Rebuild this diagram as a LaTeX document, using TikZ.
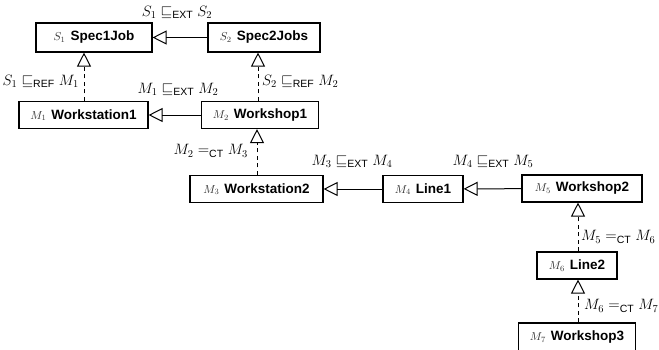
\RequirePackage{fix-cm}
\documentclass[tikz,border=0pt]{standalone}
\usepackage{amsmath}
\usepackage{fontspec}
\setsansfont{Liberation Sans}
\usetikzlibrary{arrows.meta}
\newcommand{\ext}{\mathrel{\sqsubseteq_{\textsf{EXT}}}}
\newcommand{\rfn}{\mathrel{\sqsubseteq_{\textsf{REF}}}}
\newcommand{\cteq}{\mathrel{=_{\textsf{CT}}}}
\newcommand{\bx}[2]{{\fontsize{11.5}{12}\selectfont\color{black!80}$#1$}\hspace{5pt}\sffamily\bfseries #2}
\begin{document}
\begin{tikzpicture}[x=1pt,y=-1pt,
  cls/.style={draw, line width=1.1pt, inner sep=0pt, minimum height=27pt, font=\fontsize{13.5}{15}\selectfont},
  gen/.style={line width=1pt, -{Triangle[open,length=14pt,width=14pt,line width=1pt]}},
  rel/.style={gen, dash pattern=on 4pt off 3.5pt},
  lbl/.style={font=\fontsize{15}{17}\selectfont, inner sep=1pt}]
\useasboundingbox (0,0) rectangle (659,349);
\node[cls, minimum width=116pt, minimum height=29pt] (s1) at (94,37.5) {\bx{S_1}{Spec1Job}};
\node[cls, minimum width=112pt, minimum height=29pt] (s2) at (264,37.5) {\bx{S_2}{Spec2Jobs}};
\node[cls, minimum width=129pt] (m1) at (83.5,115) {\bx{M_1}{Workstation1}};
\node[cls, minimum width=117pt] (m2) at (260,115) {\bx{M_2}{Workshop1}};
\node[cls, minimum width=133pt] (m3) at (256.5,189) {\bx{M_3}{Workstation2}};
\node[cls, minimum width=80pt] (m4) at (423,189) {\bx{M_4}{Line1}};
\node[cls, minimum width=120pt] (m5) at (582,188.5) {\bx{M_5}{Workshop2}};
\node[cls, minimum width=80pt] (m6) at (577,265.5) {\bx{M_6}{Line2}};
\node[cls, minimum width=117pt, minimum height=28pt] (m7) at (577,337) {\bx{M_7}{Workshop3}};
% connectors
\draw[gen] (s2) -- (s1);
\draw[gen] (m2) -- (m1);
\draw[gen] (m4) -- (m3);
\draw[gen] (m5) -- (m4);
\draw[rel] (m1.north -| 84,0) -- (s1.south -| 84,0);
\draw[rel] (m2.north -| 258,0) -- (s2.south -| 258,0);
\draw[rel] (m3.north -| 257,0) -- (m2.south -| 257,0);
\draw[rel] (m6.north -| 578,0) -- (m5.south -| 578,0);
\draw[rel] (m7.north -| 578,0) -- (m6.south -| 578,0);
% labels
\node[lbl] (l1) at (177,12) {$S_1 \ext S_2$};
\node[lbl, anchor=east] (l2) at (80,81) {$S_1 \rfn M_1$};
\node[lbl] (l3) at (178,89) {$M_1 \ext M_2$};
\node[lbl, anchor=west] (l4) at (261,81) {$S_2 \rfn M_2$};
\node[lbl, anchor=east] (l5) at (249,151) {$M_2 \cteq M_3$};
\node[lbl] (l6) at (352,161) {$M_3 \ext M_4$};
\node[lbl] (l7) at (493,161) {$M_4 \ext M_5$};
\node[lbl, anchor=west] (l8) at (580,237) {$M_5 \cteq M_6$};
\node[lbl, anchor=west] (l9) at (583,306) {$M_6 \cteq M_7$};
\end{tikzpicture}
\end{document}
